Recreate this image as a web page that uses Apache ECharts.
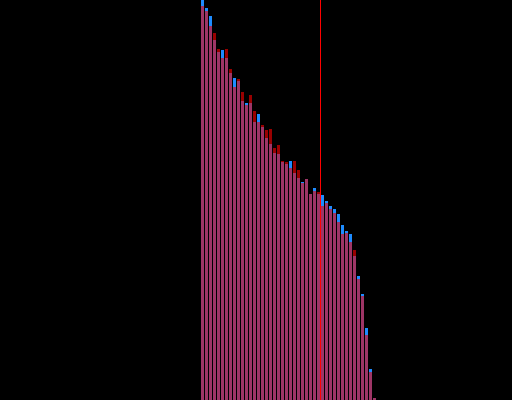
<!DOCTYPE html>
<html>
<head>
<meta charset="utf-8">
<script src="https://cdn.jsdelivr.net/npm/echarts@6/dist/echarts.min.js"></script>
<style>html,body{margin:0;padding:0;background:#000;}#c{width:512px;height:400px;}</style>
</head>
<body>
<div id="c"></div>
<script>
const categories = Array.from({length: 44}, (_, i) => String(i + 1));
const seriesA = [100, 98, 96, 90, 87, 87.5, 85.5, 81.75, 80.5, 79.75, 74.75, 74.25, 74.25, 69.5, 71.5, 68.25, 65.5, 64, 61.75, 61.5, 59.5, 59, 59.75, 56.75, 55.5, 54.5, 55.25, 51.5, 53, 51.5, 51.25, 49.75, 48.5, 47.75, 46.5, 43.75, 42.25, 41.5, 36, 31, 26.5, 18, 7.75, 0.5];
const seriesB = [98.5, 97.25, 93.5, 91.75, 87.75, 85.5, 87.75, 82.75, 78.25, 80.25, 77, 73.75, 76.25, 72.25, 69.5, 68.75, 67.5, 67.75, 63, 63.75, 59.75, 59.5, 58, 59.75, 57.5, 54.25, 55.25, 51.5, 52.25, 52, 48.5, 49.25, 47.75, 46.75, 44.5, 41.5, 41.75, 39.5, 37.5, 30.25, 26, 16.25, 7, 0.5];
const markValue = 30;
const overlap = seriesA.map((a, i) => Math.min(a, seriesB[i]));

const chart = echarts.init(document.getElementById('c'));
chart.setOption({
  backgroundColor: '#000',
  animation: false,
  grid: {left: 200.5, top: 0, bottom: 0, width: 176},
  xAxis: [
    {type: 'category', data: categories, show: false, boundaryGap: true},
    {type: 'value', min: 0, max: categories.length, show: false}
  ],
  yAxis: {type: 'value', min: 0, max: 100, show: false},
  series: [
    {type: 'bar', data: seriesA, barWidth: 3, barGap: '-100%', itemStyle: {color: '#1e8cff'}},
    {type: 'bar', data: seriesB, barWidth: 3, barGap: '-100%', itemStyle: {color: '#990000'}},
    {type: 'bar', data: overlap, barWidth: 3, barGap: '-100%', itemStyle: {color: '#9e3566'}},
    {type: 'line', xAxisIndex: 1, data: [], markLine: {
      silent: true, symbol: 'none', label: {show: false},
      lineStyle: {color: '#ff0000', width: 1, type: 'solid'},
      data: [{xAxis: markValue}]
    }}
  ]
});
</script>
</body>
</html>
